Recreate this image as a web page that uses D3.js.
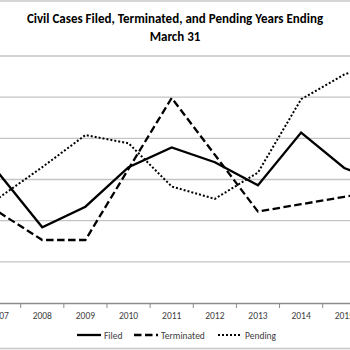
<!DOCTYPE html>
<html><head><meta charset="utf-8">
<script src="https://cdn.jsdelivr.net/npm/d3@7"></script>
<style>html,body{margin:0;padding:0;background:#fff;overflow:hidden}svg{display:block}</style>
</head><body>
<svg id="c" width="350" height="350"></svg>
<script>
const years = ["2007","2008","2009","2010","2011","2012","2013","2014","2015","2016"];
const filed = [1570, 920, 1170, 1650, 1890, 1710, 1430, 2070, 1640, 1430];
const terminated = [1100, 765, 765, 1630, 2490, 1800, 1110, 1200, 1290, 1370];
const pending = [1280, 1650, 2040, 1940, 1415, 1265, 1585, 2475, 2775, 2950];
const yTicks = [0, 500, 1000, 1500, 2000, 2500, 3000];
const titleLines = ["Civil Cases Filed, Terminated, and Pending Years Ending", "March 31"];
const legendNames = ["Filed", "Terminated", "Pending"];

const svg = d3.select("#c");
const font = "Calibri, Carlito, 'Liberation Sans', Arial, sans-serif";

const x = d3.scaleBand().domain(years).range([-22.44, -22.44 + 43.14 * years.length]).padding(0);
const y = d3.scaleLinear().domain([0, 3000]).range([303, 56]);

// chart border lines
svg.append("line").attr("x1",0).attr("x2",350).attr("y1",1).attr("y2",1).attr("stroke","#c8c8c8").attr("stroke-width",1.5);
svg.append("line").attr("x1",0).attr("x2",350).attr("y1",348.5).attr("y2",348.5).attr("stroke","#c8c8c8").attr("stroke-width",1.5);

// gridlines
const [r0, r1] = x.range();
svg.append("g").selectAll("line").data(yTicks.filter(d => d > 0)).join("line")
  .attr("x1", r0).attr("x2", r1)
  .attr("y1", d => y(d)).attr("y2", d => y(d))
  .attr("stroke", "#c4c4c4").attr("stroke-width", 1.3);

// x axis
const xAxis = d3.axisBottom(x).tickSize(0).tickPadding(9);
const ax = svg.append("g").attr("transform", `translate(0,${y(0)})`).call(xAxis);
ax.select(".domain").attr("stroke", "#8c8c8c").attr("stroke-width", 1.3);
ax.selectAll("text").attr("font-family", font).attr("font-size", 9.5).attr("fill", "#404040");
// boundary ticks
svg.append("g").selectAll("line").data(years.slice(1)).join("line")
  .attr("x1", d => x(d)).attr("x2", d => x(d))
  .attr("y1", y(0)).attr("y2", y(0) + 5)
  .attr("stroke", "#8c8c8c").attr("stroke-width", 1);

// series
const line = d3.line().x((d, i) => x(years[i]) + x.bandwidth() / 2).y(d => y(d));
const styles = [
  {data: filed, dash: null, w: 2.3},
  {data: terminated, dash: "7.5,3.5", w: 2.3},
  {data: pending, dash: "2,2", w: 2}
];
styles.forEach(s => {
  svg.append("path").datum(s.data).attr("d", line)
    .attr("fill", "none").attr("stroke", "#000").attr("stroke-width", s.w)
    .attr("stroke-dasharray", s.dash).attr("stroke-linejoin", "miter");
});

// title
const tt = svg.append("g");
const t1 = tt.append("text").attr("x", 175).attr("y", 22.5).attr("text-anchor", "middle")
  .attr("font-family", font).attr("font-weight", "bold").attr("font-size", 13).attr("fill", "#000").text(titleLines[0]);
const w1 = t1.node().getComputedTextLength();
if (w1 > 343) t1.attr("textLength", 343).attr("lengthAdjust", "spacingAndGlyphs");
tt.append("text").attr("x", 175).attr("y", 40.5).attr("text-anchor", "middle")
  .attr("font-family", font).attr("font-weight", "bold").attr("font-size", 13).attr("fill", "#000").text(titleLines[1]);

// legend
const legX = [77, 134, 218];
const lg = svg.append("g");
legendNames.forEach((n, i) => {
  lg.append("line").attr("x1", legX[i]).attr("x2", legX[i] + 24).attr("y1", 335).attr("y2", 335)
    .attr("stroke", "#000").attr("stroke-width", styles[i].w).attr("stroke-dasharray", styles[i].dash);
  lg.append("text").attr("x", legX[i] + 27).attr("y", 338.5).attr("font-family", font).attr("font-size", 9.5)
    .attr("fill", "#404040").text(n);
});
</script>
</body></html>
